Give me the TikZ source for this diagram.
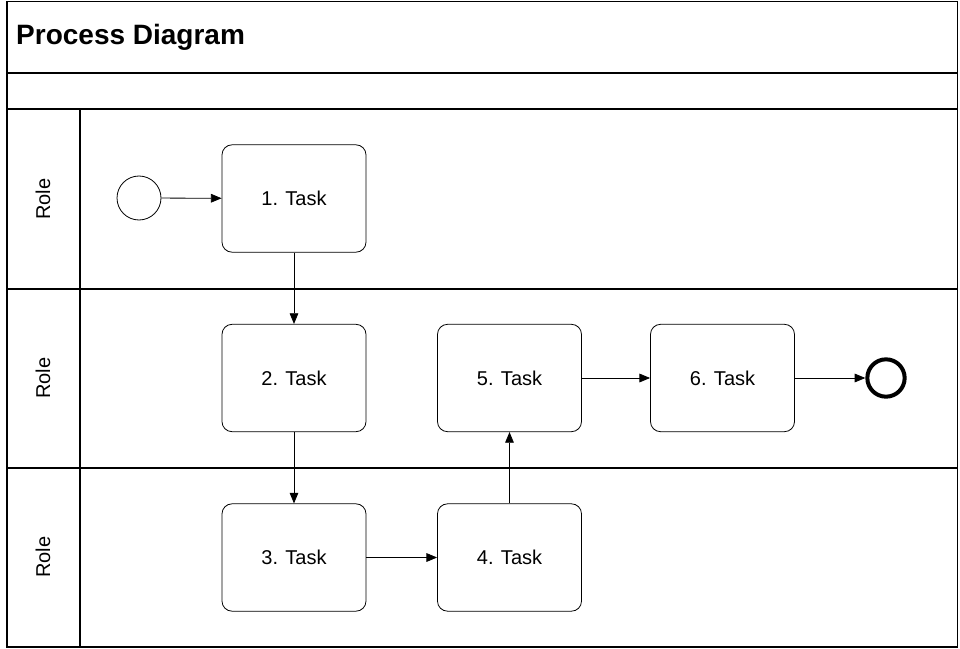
\documentclass[tikz,border=0pt]{standalone}
\usepackage{fontspec}
\setmainfont{Liberation Sans}
\usetikzlibrary{arrows.meta}
\begin{document}
\begin{tikzpicture}[x=0.75pt,y=-0.75pt,
  task/.style={draw,rounded corners=7.5pt,minimum width=108pt,minimum height=80.5pt,font=\fontsize{15}{17}\selectfont,line width=0.6pt},
  lbl/.style={rotate=90,font=\fontsize{15}{17}\selectfont},
  conn/.style={-{Triangle[length=8pt,width=6.5pt]},line width=0.6pt},
  frame/.style={line width=0.8pt}]
\useasboundingbox (0,0) rectangle (960,649);
% frame
\draw[frame] (7,1.5) rectangle (957.5,647);
\draw[frame] (7,73) -- (957.5,73);
\draw[frame] (7,109) -- (957.5,109);
\draw[frame] (7,289) -- (957.5,289);
\draw[frame] (7,468) -- (957.5,468);
\draw[frame] (80,109) -- (80,647);
\node[anchor=west,font=\fontsize{21}{24}\selectfont\bfseries] (title) at (11.5,37) {Process Diagram};
\node[lbl] (r1) at (43,199) {Role};
\node[lbl] (r2) at (43,378) {Role};
\node[lbl] (r3) at (43,557) {Role};
% events
\node[draw,circle,minimum size=33pt,inner sep=0pt,line width=0.6pt] (start) at (139,198) {};
\node[draw,circle,minimum size=28pt,inner sep=0pt,line width=3pt] (end) at (886,378) {};
% tasks
\node[task] (t1) at (294,198.5) {1. Task};
\node[task] (t2) at (294,378) {2. Task};
\node[task] (t3) at (294,557.5) {3. Task};
\node[task] (t4) at (509.5,557.5) {4. Task};
\node[task] (t5) at (509.5,378) {5. Task};
\node[task] (t6) at (722.5,378) {6. Task};
% connectors
\draw[conn] (start) -- (t1);
\draw[conn] (t1) -- (t2);
\draw[conn] (t2) -- (t3);
\draw[conn] (t3) -- (t4);
\draw[conn] (t4) -- (t5);
\draw[conn] (t5) -- (t6);
\draw[conn] (t6) -- (end);
\end{tikzpicture}
\end{document}
